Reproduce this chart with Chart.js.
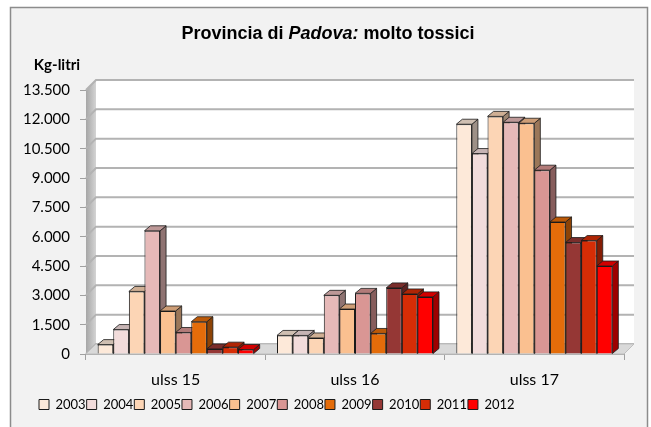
<!DOCTYPE html>
<html>
<head>
<meta charset="utf-8">
<style>
  html, body { margin: 0; padding: 0; background: #ffffff; }
  #wrap { width: 651px; height: 427px; position: relative; }
</style>
<script src="https://cdn.jsdelivr.net/npm/chart.js@4.4.1/dist/chart.umd.min.js"></script>
</head>
<body>
<div id="wrap"><canvas id="c" width="651" height="427"></canvas></div>
<script>
// ---- data ----
const categories = ['ulss 15', 'ulss 16', 'ulss 17'];
const years = ['2003', '2004', '2005', '2006', '2007', '2008', '2009', '2010', '2011', '2012'];
const v2003 = [480, 950, 11750];
const v2004 = [1250, 950, 10250];
const v2005 = [3200, 820, 12150];
const v2006 = [6300, 3000, 11850];
const v2007 = [2200, 2300, 11800];
const v2008 = [1100, 3100, 9400];
const v2009 = [1650, 1050, 6750];
const v2010 = [260, 3380, 5700];
const v2011 = [350, 3070, 5800];
const v2012 = [230, 2920, 4500];
const seriesValues = [v2003, v2004, v2005, v2006, v2007, v2008, v2009, v2010, v2011, v2012];
const colors = ['#FDE9D9', '#F2DCDB', '#FCD5B5', '#E6B9B8', '#FAC090', '#D99694', '#E46C0A', '#953735', '#D62D06', '#FF0000'];
const yMax = 13500;
const yStep = 1500;

function fmt(v) { return String(v).replace(/\B(?=(\d{3})+(?!\d))/g, '.'); }
function shade(hex, f) {
  const n = parseInt(hex.slice(1), 16);
  const r = (n >> 16) & 255, g = (n >> 8) & 255, b = n & 255;
  return 'rgb(' + Math.round(r * f) + ',' + Math.round(g * f) + ',' + Math.round(b * f) + ')';
}
function poly(ctx, pts, fill, stroke, lw) {
  ctx.beginPath();
  ctx.moveTo(pts[0][0], pts[0][1]);
  for (let i = 1; i < pts.length; i++) ctx.lineTo(pts[i][0], pts[i][1]);
  ctx.closePath();
  if (fill) { ctx.fillStyle = fill; ctx.fill(); }
  if (stroke) { ctx.strokeStyle = stroke; ctx.lineWidth = lw || 1; ctx.stroke(); }
}

const WALL = 10, DX = 6, DY = 5;

const scene = {
  id: 'scene',
  afterLayout(chart) {
    const l = chart.legend;
    if (l) { l.left += 22; l.right += 22; }
  },
  beforeDraw(chart) {
    const ctx = chart.ctx;
    ctx.save();
    ctx.fillStyle = '#ffffff';
    ctx.fillRect(0, 0, chart.width, chart.height);
    ctx.fillStyle = '#F2F2F2';
    ctx.fillRect(10.5, 7.5, 637, 430);
    ctx.strokeStyle = '#8C8C8C';
    ctx.lineWidth = 1.5;
    ctx.strokeRect(10.5, 7.5, 637, 430);
    // title
    ctx.fillStyle = '#000';
    ctx.textBaseline = 'middle';
    const parts = [
      ['Provincia di ', 'bold 18px "Liberation Sans", Arial, sans-serif'],
      ['Padova:', 'italic bold 18px "Liberation Sans", Arial, sans-serif'],
      [' molto tossici', 'bold 18px "Liberation Sans", Arial, sans-serif']
    ];
    let total = 0;
    parts.forEach(p => { ctx.font = p[1]; total += ctx.measureText(p[0]).width; });
    let x = 328 - total / 2;
    ctx.textAlign = 'left';
    parts.forEach(p => { ctx.font = p[1]; ctx.fillText(p[0], x, 34); x += ctx.measureText(p[0]).width; });
    // unit label
    ctx.font = 'bold 15px Lato, "Open Sans", sans-serif';
    ctx.textAlign = 'center';
    ctx.fillText('Kg-litri', 57, 65);
    ctx.restore();
  },
  beforeDatasetsDraw(chart) {
    const ctx = chart.ctx;
    const a = chart.chartArea;
    const y = chart.scales.y;
    ctx.save();
    // side wall
    const g = ctx.createLinearGradient(a.left, 0, a.left + WALL, 0);
    g.addColorStop(0, '#A6A6A6');
    g.addColorStop(1, '#D4D4D4');
    poly(ctx, [[a.left, a.top], [a.left + WALL, a.top - WALL], [a.left + WALL, a.bottom - WALL], [a.left, a.bottom]], g);
    // back wall
    ctx.fillStyle = '#FFFFFF';
    ctx.fillRect(a.left + WALL, a.top - WALL, a.right - a.left, a.bottom - a.top);
    // grid lines
    ctx.strokeStyle = '#B3B3B3';
    ctx.lineWidth = 2;
    y.ticks.forEach(t => {
      const py = y.getPixelForValue(t.value);
      ctx.beginPath();
      ctx.moveTo(a.left, py);
      ctx.lineTo(a.left + WALL, py - WALL);
      ctx.lineTo(a.right + WALL, py - WALL);
      ctx.stroke();
    });
    // floor
    poly(ctx, [[a.left, a.bottom], [a.right, a.bottom], [a.right + WALL, a.bottom - WALL], [a.left + WALL, a.bottom - WALL]], '#D9D9D9', '#BFBFBF', 1);
    // bar depth faces
    const n = chart.data.labels.length;
    for (let j = 0; j < n; j++) {
      chart.data.datasets.forEach((ds, i) => {
        const el = chart.getDatasetMeta(i).data[j];
        if (!el) return;
        const p = el.getProps(['x', 'y', 'base', 'width'], true);
        const x0 = p.x - p.width / 2, x1 = p.x + p.width / 2, top = p.y, base = p.base;
        const c = colors[i];
        poly(ctx, [[x1, top], [x1 + DX, top - DY], [x1 + DX, base - DY], [x1, base]], shade(c, 0.62), '#1a1a1a', 0.8);
        poly(ctx, [[x0, top], [x1, top], [x1 + DX, top - DY], [x0 + DX, top - DY]], shade(c, 0.82), '#1a1a1a', 0.8);
      });
    }
    ctx.restore();
  }
};

const datasets = years.map((yr, i) => ({
  label: yr,
  data: seriesValues[i],
  backgroundColor: colors[i],
  borderColor: '#1a1a1a',
  borderWidth: 1,
  categoryPercentage: 0.87,
  barPercentage: 1.0
}));

new Chart(document.getElementById('c'), {
  type: 'bar',
  data: { labels: categories, datasets: datasets },
  plugins: [scene],
  options: {
    responsive: false,
    animation: false,
    devicePixelRatio: 1,
    layout: { padding: { top: 90, left: 16, right: 27, bottom: 6 } },
    plugins: {
      title: { display: false },
      tooltip: { enabled: false },
      legend: {
        display: true,
        position: 'bottom',
        align: 'start',
        labels: {
          boxWidth: 10,
          boxHeight: 10,
          padding: 1,
          color: '#000',
          font: { family: 'Lato, "Open Sans", sans-serif', size: 13 }
        }
      }
    },
    scales: {
      x: {
        offset: true,
        afterFit(s) { s.height = 43; },
        grid: { display: true, drawOnChartArea: false, drawTicks: true, tickLength: 6, color: '#A0A0A0' },
        border: { display: true, color: '#A6A6A6' },
        ticks: { color: '#000', padding: 10, font: { family: 'Lato, "Open Sans", sans-serif', size: 16 } }
      },
      y: {
        min: 0,
        max: yMax,
        afterFit(s) { s.width = 70; },
        grid: { display: true, drawOnChartArea: false, drawTicks: true, tickLength: 6, color: '#A0A0A0' },
        border: { display: true, color: '#A6A6A6' },
        ticks: {
          stepSize: yStep,
          color: '#000',
          padding: 10,
          font: { family: 'Lato, "Open Sans", sans-serif', size: 15 },
          callback: v => fmt(v)
        }
      }
    }
  }
});
</script>
</body>
</html>
